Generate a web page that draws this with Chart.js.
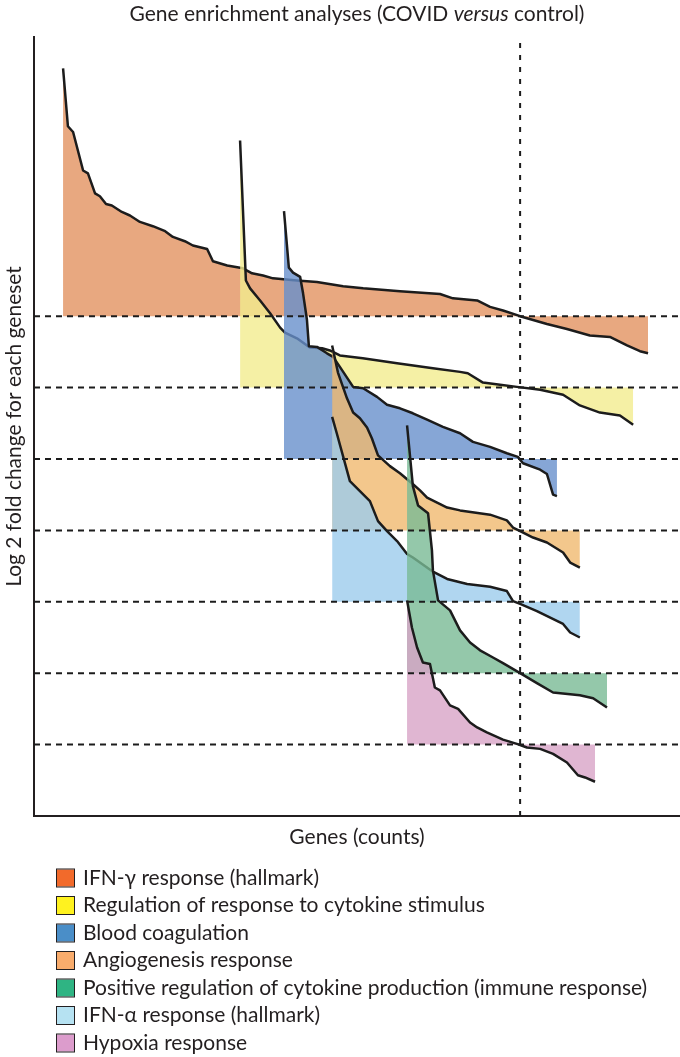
<!DOCTYPE html>
<html lang="en">
<head>
<meta charset="UTF-8" />
<title>Gene enrichment analyses</title>
<script src="https://cdn.jsdelivr.net/npm/chart.js"></script>
<style>
  body { margin: 0; background: #fff; }
  canvas { display: block; }
</style>
</head>
<body>
<canvas id="chart" width="680" height="1057"></canvas>
<script>
  // geneset names, in legend order
  const genesets = [
    "IFN-\u03b3 response (hallmark)",
    "Regulation of response to cytokine stimulus",
    "Blood coagulation",
    "Angiogenesis response",
    "Positive regulation of cytokine production (immune response)",
    "IFN-\u03b1 response (hallmark)",
    "Hypoxia response",
  ];
  // order of the genesets from top to bottom in the plot
  const stackOrder = [0, 1, 2, 3, 5, 4, 6];
  const legendColors = ["#f26a2b", "#fff21f", "#4a8ec8", "#f9ac6c", "#2fb483", "#b6e2f2", "#dc9ccc"];
  const fillColors = [
    "rgba(226,146,96,0.8)",
    "rgba(243,236,143,0.8)",
    "rgba(104,144,204,0.8)",
    "rgba(240,185,111,0.8)",
    "rgba(121,186,149,0.8)",
    "rgba(156,204,236,0.8)",
    "rgba(216,164,199,0.8)",
  ];

  // gene rank (x) and log2 fold change (y) for each geneset
  const ifnGammaRank = [9.0, 10.5, 12.1, 15.2, 16.7, 18.9, 20.4, 22.3, 24.1, 27.2, 29.7, 32.8, 36.8, 40.6, 43.0, 46.7, 49.2, 53.6, 55.4, 59.8, 64.7, 67.5, 70.9, 74.0, 81.4, 87.6, 95.7, 101.9, 113.3, 125.7, 129.7, 137.2, 141.2, 145.2, 150.5, 158.8, 165.0, 172.1, 178.3, 183.6, 187.6, 190.1];
  const ifnGammaLfc = [3.47, 2.66, 2.58, 2.04, 2.0, 1.72, 1.68, 1.57, 1.55, 1.46, 1.41, 1.32, 1.26, 1.19, 1.11, 1.05, 0.99, 0.94, 0.77, 0.71, 0.67, 0.6, 0.57, 0.53, 0.5, 0.48, 0.42, 0.39, 0.35, 0.31, 0.25, 0.22, 0.13, 0.08, 0.0, -0.11, -0.18, -0.27, -0.29, -0.41, -0.49, -0.52];

  const cytokineStimRank = [63.8, 65.6, 66.9, 70.0, 73.1, 76.2, 77.7, 81.4, 85.4, 89.2, 91.6, 94.7, 101.8, 112.4, 123.5, 131.9, 134.3, 139.0, 144.3, 149.5, 156.7, 163.8, 169.0, 175.2, 181.4, 185.5];
  const cytokineStimLfc = [3.46, 1.5, 1.39, 1.22, 1.04, 0.84, 0.77, 0.69, 0.56, 0.55, 0.52, 0.45, 0.41, 0.34, 0.27, 0.22, 0.2, 0.07, 0.04, 0.01, -0.03, -0.1, -0.25, -0.35, -0.39, -0.52];

  const coagulationRank = [77.4, 78.9, 80.2, 82.4, 83.3, 84.5, 85.1, 87.6, 90.7, 92.6, 94.7, 98.8, 101.9, 106.2, 109.3, 113.3, 117.3, 121.7, 126.6, 131.9, 135.9, 141.2, 146.4, 149.8, 151.4, 156.7, 158.8, 160.7, 161.9];
  const coagulationLfc = [3.47, 2.68, 2.61, 2.55, 2.32, 1.95, 1.58, 1.57, 1.48, 1.43, 1.29, 1.01, 0.99, 0.87, 0.76, 0.71, 0.64, 0.55, 0.45, 0.36, 0.24, 0.17, 0.08, 0.03, -0.06, -0.15, -0.21, -0.5, -0.52];

  const angiogenesisRank = [92.3, 94.1, 96.9, 98.8, 100.9, 103.1, 104.6, 106.5, 110.2, 113.3, 117.0, 119.5, 121.7, 124.8, 127.9, 131.9, 141.2, 146.4, 148.3, 150.5, 154.5, 158.8, 163.8, 166.0, 169.0];
  const angiogenesisLfc = [2.59, 2.21, 1.85, 1.65, 1.57, 1.44, 1.29, 1.05, 0.9, 0.8, 0.66, 0.56, 0.46, 0.39, 0.32, 0.28, 0.22, 0.14, 0.04, -0.01, -0.1, -0.17, -0.31, -0.45, -0.52];

  const cytokineProdRank = [115.5, 117.3, 118.9, 122.0, 123.2, 123.5, 125.1, 128.8, 131.9, 135.0, 138.1, 142.1, 145.2, 150.5, 155.7, 160.7, 169.0, 173.1, 177.4];
  const cytokineProdLfc = [3.47, 2.62, 2.35, 2.24, 1.72, 1.44, 1.02, 0.88, 0.6, 0.43, 0.32, 0.22, 0.14, 0.0, -0.14, -0.27, -0.31, -0.35, -0.48];

  const ifnAlphaRank = [92.3, 93.8, 97.8, 100.9, 104.0, 106.5, 109.3, 112.4, 115.5, 117.3, 123.2, 127.9, 134.1, 141.2, 146.4, 148.3, 150.5, 155.7, 163.8, 166.0, 169.0];
  const ifnAlphaLfc = [2.59, 2.35, 1.69, 1.55, 1.41, 1.13, 0.99, 0.85, 0.67, 0.62, 0.43, 0.32, 0.25, 0.21, 0.15, 0.01, -0.03, -0.13, -0.31, -0.43, -0.5];

  const hypoxiaRank = [115.5, 117.0, 118.6, 120.4, 122.6, 124.1, 125.7, 128.8, 131.3, 135.0, 137.2, 140.2, 145.2, 149.5, 152.6, 156.7, 160.7, 165.0, 168.4, 170.6, 173.7];
  const hypoxiaLfc = [2.02, 1.64, 1.36, 1.15, 1.13, 0.8, 0.76, 0.55, 0.5, 0.31, 0.24, 0.17, 0.07, 0.01, -0.04, -0.06, -0.13, -0.25, -0.43, -0.46, -0.52];

  const ranks = [ifnGammaRank, cytokineStimRank, coagulationRank, angiogenesisRank, cytokineProdRank, ifnAlphaRank, hypoxiaRank];
  const foldChanges = [ifnGammaLfc, cytokineStimLfc, coagulationLfc, angiogenesisLfc, cytokineProdLfc, ifnAlphaLfc, hypoxiaLfc];

  const crossingRank = 150.5; // where the curves cross zero
  const rankMax = 200;
  const yMax = 10.91;

  const FONT = "Lato, 'Open Sans', sans-serif";
  const TEXT = "#231f20";
  const FS = 21;

  const datasets = [];
  genesets.forEach((name, i) => {
    const pos = stackOrder.indexOf(i);
    const offset = genesets.length - pos; // each geneset sits on its own zero line
    datasets.push({
      label: name,
      data: ranks[i].map((r, k) => ({ x: r, y: foldChanges[i][k] + offset })),
      borderColor: "#1c1c1c",
      borderWidth: 2.5,
      borderJoinStyle: "round",
      backgroundColor: fillColors[i],
      fill: { value: offset },
      pointRadius: 0,
      tension: 0,
      order: 20 - pos,
    });
  });
  // dashed zero lines
  for (let pos = 0; pos < genesets.length; pos++) {
    const offset = genesets.length - pos;
    datasets.push({
      label: "zero " + pos,
      data: [{ x: 0, y: offset }, { x: rankMax, y: offset }],
      borderColor: "#1c1c1c",
      borderWidth: 2,
      borderDash: [6, 5],
      fill: false,
      pointRadius: 0,
      order: 1,
    });
  }
  datasets.push({
    label: "crossing",
    data: [{ x: crossingRank, y: 0 }, { x: crossingRank, y: yMax }],
    borderColor: "#1c1c1c",
    borderWidth: 2,
    borderDash: [5, 7],
    fill: false,
    pointRadius: 0,
    order: 1,
  });

  // title with italic "versus", and the legend list
  const extrasPlugin = {
    id: "extras",
    afterDraw(chart) {
      const ctx = chart.ctx;
      const area = chart.chartArea;
      ctx.save();
      ctx.fillStyle = TEXT;
      ctx.textBaseline = "middle";
      ctx.textAlign = "left";
      const parts = [
        ["Gene enrichment analyses (COVID ", ""],
        ["versus", "italic "],
        [" control)", ""],
      ];
      let total = 0;
      parts.forEach((p) => {
        ctx.font = p[1] + FS + "px " + FONT;
        total += ctx.measureText(p[0]).width;
      });
      let x = (area.left + area.right) / 2 - total / 2;
      parts.forEach((p) => {
        ctx.font = p[1] + FS + "px " + FONT;
        ctx.fillText(p[0], x, 14);
        x += ctx.measureText(p[0]).width;
      });

      ctx.font = FS + "px " + FONT;
      genesets.forEach((name, i) => {
        const y = area.bottom + 62 + i * 27.5;
        ctx.fillStyle = legendColors[i];
        ctx.fillRect(57, y - 8.5, 17, 17);
        ctx.strokeStyle = "#231f20";
        ctx.lineWidth = 1;
        ctx.strokeRect(56.5, y - 9, 18, 18);
        ctx.fillStyle = TEXT;
        ctx.fillText(name, 83, y);
      });
      ctx.restore();
    },
  };

  new Chart(document.getElementById("chart"), {
    type: "line",
    data: { datasets: datasets },
    options: {
      responsive: false,
      animation: false,
      layout: { padding: { top: 37, right: 0, bottom: 201, left: 0 } },
      plugins: {
        legend: { display: false },
        tooltip: { enabled: false },
      },
      scales: {
        x: {
          type: "linear",
          min: 0,
          max: rankMax,
          grid: { display: false },
          ticks: { display: false },
          border: { display: true, color: "#231f20", width: 2 },
          title: {
            display: true,
            text: "Genes (counts)",
            color: TEXT,
            font: { family: FONT, size: FS },
            padding: { top: 0, bottom: 6 },
          },
          afterFit(scale) { scale.height = 40; },
        },
        y: {
          min: 0,
          max: yMax,
          grid: { display: false },
          ticks: { display: false },
          border: { display: true, color: "#231f20", width: 2 },
          title: {
            display: true,
            text: "Log 2 fold change for each geneset",
            color: TEXT,
            font: { family: FONT, size: FS },
            padding: { top: 2, bottom: 0 },
          },
          afterFit(scale) { scale.width = 34; },
        },
      },
    },
    plugins: [extrasPlugin],
  });
</script>
</body>
</html>
